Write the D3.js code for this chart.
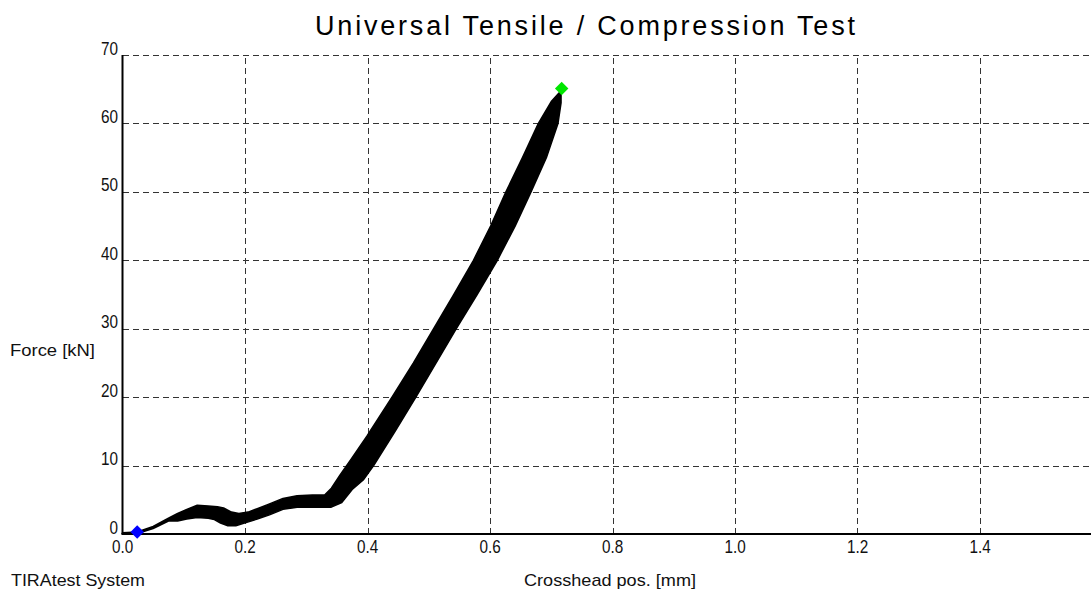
<!DOCTYPE html>
<html>
<head>
<meta charset="utf-8">
<script src="https://cdn.jsdelivr.net/npm/d3@7"></script>
<style>
  html, body { margin: 0; padding: 0; background: #fff; }
  svg { display: block; }
  .tick-label { font-family: "Liberation Sans", Arial, sans-serif; font-size: 18px; fill: #111; }
  .label { font-family: "Liberation Sans", Arial, sans-serif; font-size: 17px; fill: #111; }
  .title { font-family: "Liberation Sans", Arial, sans-serif; font-size: 27px; fill: #000; }
</style>
</head>
<body>
<svg id="chart" width="1091" height="594"></svg>
<script>
// Crosshead position [mm] along the upper/left edge of the recorded force band
const upperPos   = [0.000, 0.024, 0.050, 0.075, 0.090, 0.105, 0.122, 0.140, 0.155, 0.165, 0.178, 0.190, 0.205, 0.220, 0.240, 0.262, 0.285, 0.310, 0.330, 0.341, 0.355, 0.373, 0.399, 0.440, 0.475, 0.508, 0.541, 0.573, 0.601, 0.626, 0.653, 0.679, 0.700, 0.713];
// Force [kN] along the same edge
const upperForce = [0.2,   0.3,   1.1,   2.3,   3.0,   3.6,   4.2,   4.1,   4.0,   3.8,   3.2,   3.0,   3.2,   3.7,   4.4,   5.2,   5.6,   5.7,   5.7,   6.7,   8.6,   10.9,  14.3,  20.0,  25.0,  30.0,  35.0,  40.0,  45.0,  50.0,  55.0,  60.0,  63.2,  64.5];

// Crosshead position [mm] along the lower/right edge of the band
const lowerPos   = [0.000, 0.024, 0.050, 0.075, 0.090, 0.105, 0.122, 0.140, 0.150, 0.160, 0.172, 0.185, 0.203, 0.220, 0.240, 0.262, 0.285, 0.310, 0.340, 0.358, 0.375, 0.393, 0.410, 0.445, 0.479, 0.512, 0.545, 0.579, 0.612, 0.641, 0.667, 0.692, 0.711, 0.716, 0.716];
// Force [kN] along the lower/right edge
const lowerForce = [0.0,   0.05,  0.8,   1.9,   1.9,   2.2,   2.4,   2.3,   2.1,   1.6,   1.2,   1.2,   1.7,   2.2,   2.8,   3.6,   3.9,   3.9,   3.9,   4.6,   6.5,   7.9,   10.0,  15.0,  20.0,  25.0,  30.0,  35.0,  40.0,  45.0,  50.0,  55.0,  60.0,  63.0,  64.5];

// Start and maximum force markers
const startPoint = { pos: 0.024, force: 0.3 };
const maxPoint   = { pos: 0.717, force: 65.1 };

// Axis ticks
const xTicks = [0.0, 0.2, 0.4, 0.6, 0.8, 1.0, 1.2, 1.4];
const yTicks = [0, 10, 20, 30, 40, 50, 60, 70];

const svg = d3.select("#chart");
const W = 1091, H = 594;

const x = d3.scaleLinear().domain([0, 1.6]).range([122.5, 122.5 + 1.6 * 612.5]);
const y = d3.scaleLinear().domain([0, 70]).range([534, 55]);

// Title
svg.append("text")
  .attr("class", "title")
  .attr("x", 315).attr("y", 35)
  .attr("textLength", 540)
  .attr("lengthAdjust", "spacing")
  .text("Universal Tensile / Compression Test");

// Grid
const grid = svg.append("g")
  .attr("stroke", "#333")
  .attr("stroke-width", 1)
  .attr("stroke-dasharray", "6,4")
  .attr("shape-rendering", "crispEdges");

grid.selectAll("line.h")
  .data(yTicks.filter(d => d > 0))
  .join("line")
  .attr("class", "h")
  .attr("x1", x(0)).attr("x2", W)
  .attr("y1", d => Math.round(y(d)) + 0.5)
  .attr("y2", d => Math.round(y(d)) + 0.5);

grid.selectAll("line.v")
  .data(xTicks.filter(d => d > 0))
  .join("line")
  .attr("class", "v")
  .attr("x1", d => Math.round(x(d)) + 0.5)
  .attr("x2", d => Math.round(x(d)) + 0.5)
  .attr("y1", y(0)).attr("y2", y(70));

// Force band: upper edge forward, lower edge back
const upper = upperPos.map((p, i) => [p, upperForce[i]]);
const lower = lowerPos.map((p, i) => [p, lowerForce[i]]).reverse();
const band = d3.line()
  .x(d => x(d[0]))
  .y(d => y(d[1]));

svg.append("path")
  .attr("d", band(upper.concat(lower)) + "Z")
  .attr("fill", "#000")
  .attr("stroke", "#000")
  .attr("stroke-width", 1.5)
  .attr("stroke-linejoin", "round");

// Axes lines
svg.append("line")
  .attr("x1", x(0)).attr("x2", x(0))
  .attr("y1", y(70)).attr("y2", y(0))
  .attr("stroke", "#000").attr("stroke-width", 2);
svg.append("line")
  .attr("x1", x(0) - 1).attr("x2", W)
  .attr("y1", y(0)).attr("y2", y(0))
  .attr("stroke", "#000").attr("stroke-width", 2);

// Tick labels (condensed horizontally)
const xScaleText = 0.85;
svg.selectAll("text.ylab")
  .data(yTicks)
  .join("text")
  .attr("class", "tick-label ylab")
  .attr("text-anchor", "end")
  .attr("transform", d => `translate(118,${y(d) - 0.5}) scale(${xScaleText},1)`)
  .text(d => d);

svg.selectAll("text.xlab")
  .data(xTicks)
  .join("text")
  .attr("class", "tick-label xlab")
  .attr("text-anchor", "middle")
  .attr("transform", d => `translate(${x(d)},553) scale(${xScaleText},1)`)
  .text(d => d.toFixed(1));

// Markers
const diamond = d3.symbol().type(d3.symbolSquare).size(90);
svg.append("path")
  .attr("d", diamond())
  .attr("transform", `translate(${x(startPoint.pos)},${y(startPoint.force)}) rotate(45)`)
  .attr("fill", "#0000ff");
svg.append("path")
  .attr("d", diamond())
  .attr("transform", `translate(${x(maxPoint.pos)},${y(maxPoint.force)}) rotate(45)`)
  .attr("fill", "#00e600");

// Axis titles
svg.append("text").attr("class", "label")
  .attr("x", 10).attr("y", 356)
  .attr("textLength", 85).attr("lengthAdjust", "spacingAndGlyphs")
  .text("Force [kN]");
svg.append("text").attr("class", "label")
  .attr("x", 11).attr("y", 586)
  .attr("textLength", 134).attr("lengthAdjust", "spacingAndGlyphs")
  .text("TIRAtest System");
svg.append("text").attr("class", "label")
  .attr("x", 524).attr("y", 586)
  .attr("textLength", 172).attr("lengthAdjust", "spacingAndGlyphs")
  .text("Crosshead pos. [mm]");
</script>
</body>
</html>
